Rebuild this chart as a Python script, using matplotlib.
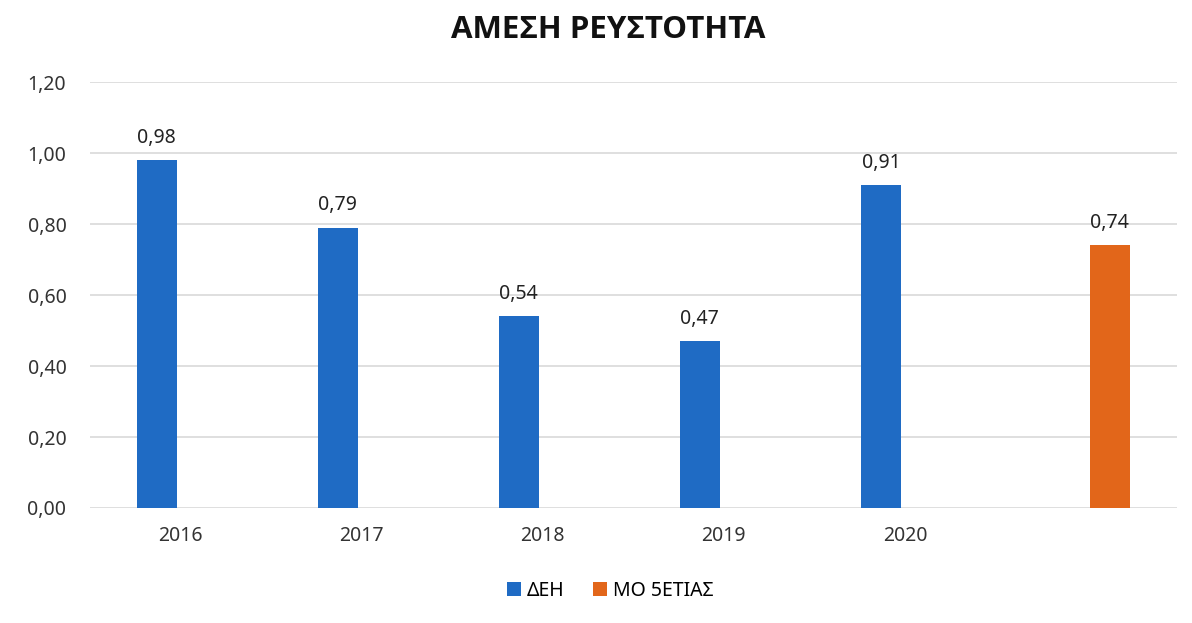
import numpy as np
import matplotlib.pyplot as plt

plt.rcParams['font.family'] = ['Noto Sans', 'DejaVu Sans']

# -------- data --------
categories = ["2016", "2017", "2018", "2019", "2020", ""]
deh_values = [0.98, 0.79, 0.54, 0.47, 0.91, np.nan]
avg_values = [np.nan, np.nan, np.nan, np.nan, np.nan, 0.74]
y_ticks = [0.0, 0.2, 0.4, 0.6, 0.8, 1.0, 1.2]

BLUE = "#1F6BC4"
ORANGE = "#E2661A"

fig = plt.figure(figsize=(11.92, 6.23), dpi=100)
ax = fig.add_axes([0.0755, 0.1846, 0.9115, 0.6834])

x = np.arange(len(categories))
w = 0.22
off = 0.132
b1 = ax.bar(x - off, deh_values, width=w, color=BLUE, label="ΔΕΗ", zorder=3)
b2 = ax.bar(x + off, avg_values, width=w, color=ORANGE, label="ΜΟ 5ΕΤΙΑΣ", zorder=3)

def fmt(v):
    return f"{v:.2f}".replace(".", ",")

for bars, vals in ((b1, deh_values), (b2, avg_values)):
    for rect, v in zip(bars, vals):
        if np.isnan(v):
            continue
        ax.annotate(fmt(v), (rect.get_x() + rect.get_width() / 2, v),
                    xytext=(0, 9), textcoords="offset points",
                    ha="center", va="bottom", fontsize=14, color="#222222")

ax.set_xlim(-0.5, len(categories) - 0.5)
ax.set_ylim(0, 1.2)
ax.set_yticks(y_ticks)
ax.set_yticklabels([fmt(t) for t in y_ticks], fontsize=14, color="#333333")
ax.set_xticks(x)
ax.set_xticklabels(categories, fontsize=14, color="#333333")
ax.tick_params(axis="both", length=0)
ax.tick_params(axis="x", pad=13)
ax.tick_params(axis="y", pad=17)

ax.yaxis.grid(True, color="#D9D9D9", linewidth=1.2, zorder=0)
for s in ax.spines.values():
    s.set_visible(False)

fig.text(0.51, 0.952, "ΑΜΕΣΗ ΡΕΥΣΤΟΤΗΤΑ", ha="center", va="center",
         fontsize=22.5, fontweight="bold", color="#111111",
         family=["Open Sans", "DejaVu Sans"])

fig.legend(handles=[b1, b2], loc="center", bbox_to_anchor=(0.512, 0.052),
           ncol=2, frameon=False, fontsize=14, handlelength=0.7,
           handleheight=0.7, handletextpad=0.3, columnspacing=1.5)

plt.savefig("out.png", dpi=100)
plt.close()
